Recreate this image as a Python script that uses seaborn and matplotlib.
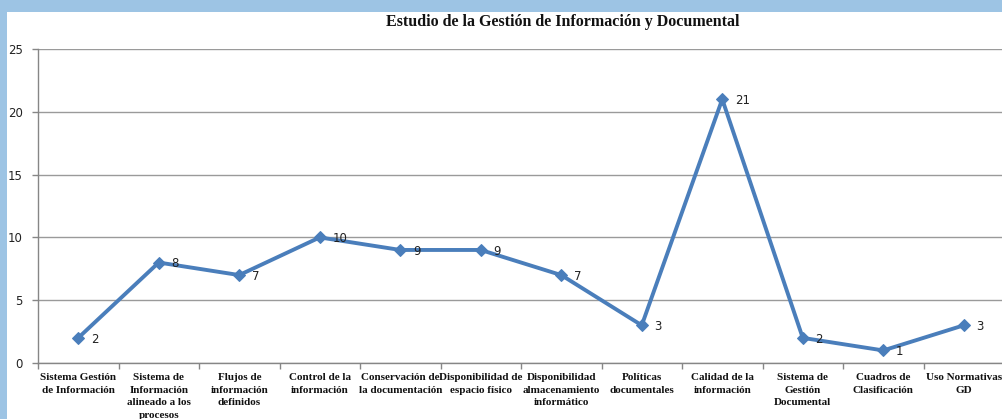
import matplotlib
matplotlib.use("Agg")
import matplotlib.pyplot as plt
from matplotlib.patches import Rectangle
import seaborn as sns
import pandas as pd
import numpy as np

categories = [
    "Sistema Gestión\nde Información",
    "Sistema de\nInformación\nalineado a los\nprocesos",
    "Flujos de\ninformación\ndefinidos",
    "Control de la\ninformación",
    "Conservación de\nla documentación",
    "Disponibilidad de\nespacio físico",
    "Disponibilidad\nalmacenamiento\ninformático",
    "Políticas\ndocumentales",
    "Calidad de la\ninformación",
    "Sistema de\nGestión\nDocumental",
    "Cuadros de\nClasificación",
    "Uso Normativas\nGD",
]
values = [2, 8, 7, 10, 9, 9, 7, 3, 21, 2, 1, 3]
yticks = [0, 5, 10, 15, 20, 25]
title = "Estudio de la Gestión de Información y Documental"

sns.set_theme(style="white")
W, H = 1003, 419
fig = plt.figure(figsize=(W / 100, H / 100), dpi=100)
fig.patch.set_facecolor("#9dc4e4")
bg = Rectangle((7 / W, 0), 1, 1 - 12 / H, transform=fig.transFigure,
               facecolor="white", edgecolor="none", zorder=-10)
fig.add_artist(bg)

ax = fig.add_axes([38 / W, (H - 363) / H, (1004 - 38) / W, (363 - 49) / H])
ax.set_facecolor("none")
ax.set_zorder(1)

df = pd.DataFrame({"pos": np.arange(len(categories)), "val": values})
sns.lineplot(data=df, x="pos", y="val", ax=ax, color="#4a7ebb", linewidth=2.8,
             marker="D", markersize=6, markeredgecolor="#4a7ebb", sort=False, zorder=3)

ax.set_xlim(-0.5, len(categories) - 0.5)
ax.set_ylim(0, 25)
ax.set_yticks(yticks)
ax.set_yticklabels([str(t) for t in yticks], fontsize=8.5, color="#222222",
                   family="DejaVu Sans")
ax.set_xticks(np.arange(len(categories)))
ax.set_xticklabels(categories, fontsize=8, fontweight="bold", family="Liberation Serif",
                   color="#111111", linespacing=1.55, va="top")
ax.set_xticks(np.arange(-0.5, len(categories)), minor=True)
ax.tick_params(axis="x", which="major", length=0, pad=7)
ax.tick_params(axis="x", which="minor", length=4, color="#868686", width=1, direction="out",
               bottom=True)
ax.tick_params(axis="y", which="major", length=4, color="#868686", width=1, direction="out",
               left=True, pad=7)
ax.set_xlabel("")
ax.set_ylabel("")

ax.grid(axis="y", color="#9a9a9a", linewidth=1)
ax.grid(axis="x", visible=False)
for s in ["top", "right"]:
    ax.spines[s].set_visible(False)
for s in ["left", "bottom"]:
    ax.spines[s].set_color("#868686")
    ax.spines[s].set_linewidth(1)

for i, v in enumerate(values):
    ax.annotate(str(v), (i, v), xytext=(9, -1), textcoords="offset points",
                ha="left", va="center", fontsize=8.5, color="#222222", family="DejaVu Sans")

fig.text(563 / W, 1 - 22 / H, title, ha="center", va="center", fontsize=11.5,
         fontweight="bold", family="Liberation Serif", color="#111111")

fig.savefig("out.png", dpi=100)
